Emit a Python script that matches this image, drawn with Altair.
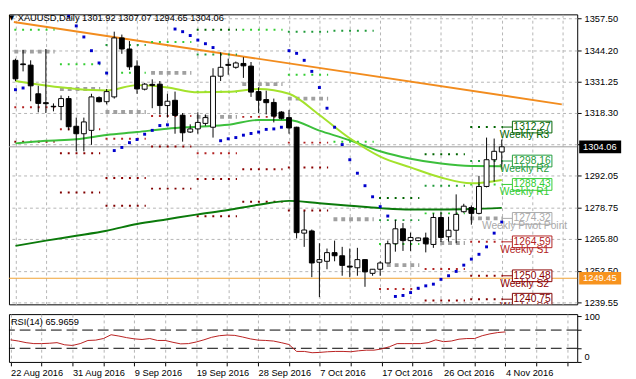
import altair as alt
import pandas as pd

# ---------------- data ----------------
opens = [1340.0,1338.5,1338.0,1326.1,1322.4,1320.9,1320.8,1324.1,1312.6,1309.5,
         1310.9,1324.5,1322.8,1324.8,1349.3,1344.7,1337.6,1328.0,1330.0,1330.1,
         1321.2,1323.4,1317.2,1310.2,1311.5,1313.8,1312.2,1333.4,1338.3,1337.1,
         1338.7,1337.6,1327.0,1323.7,1322.5,1318.5,1316.2,1312.2,1268.2,1269.1,
         1256.1,1256.5,1260.1,1258.8,1254.5,1253.8,1257.2,1251.5,1253.2,1255.8,
         1263.8,1270.0,1265.1,1265.1,1266.2,1263.5,1274.7,1266.7,1269.4,1277.1,
         1278.8,1276.4,1287.6,1298.7,1301.92]
highs = [1340.7,1344.3,1340.0,1329.4,1344.7,1322.1,1325.4,1325.2,1316.2,1316.2,
         1326.1,1325.0,1328.1,1351.9,1350.7,1348.0,1340.0,1330.6,1332.1,1331.4,
         1326.1,1327.0,1318.1,1313.4,1318.4,1317.5,1336.7,1343.3,1340.7,1339.5,
         1341.3,1339.3,1328.8,1327.4,1324.1,1318.9,1319.4,1312.4,1277.4,1269.7,
         1264.0,1261.8,1265.1,1262.5,1261.8,1262.1,1257.3,1253.3,1256.5,1265.1,
         1273.7,1272.4,1268.4,1266.4,1268.4,1276.4,1277.1,1275.0,1284.3,1280.4,
         1279.7,1292.0,1307.9,1307.5,1307.07]
lows = [1331.4,1335.4,1323.0,1318.4,1318.1,1318.8,1315.1,1310.9,1302.2,1302.2,
        1304.9,1322.5,1321.7,1324.1,1342.7,1336.0,1326.1,1327.5,1320.1,1317.5,
        1316.2,1309.5,1306.2,1309.8,1309.5,1312.8,1307.9,1331.4,1334.0,1336.5,
        1332.7,1324.8,1318.1,1317.5,1314.2,1315.4,1309.5,1266.0,1262.5,1249.9,
        1241.6,1253.2,1256.5,1250.5,1249.9,1250.5,1245.9,1250.5,1250.5,1255.8,
        1260.5,1260.8,1260.8,1264.8,1260.2,1262.1,1264.5,1264.7,1264.0,1276.7,
        1271.7,1276.0,1287.2,1289.6,1294.65]
closes = [1332.3,1338.2,1329.4,1322.1,1322.0,1320.7,1324.1,1312.4,1309.5,1314.4,
          1324.8,1322.8,1327.0,1349.3,1344.7,1337.3,1328.1,1330.1,1329.6,1321.2,
          1323.0,1317.1,1309.9,1311.5,1314.2,1316.2,1333.4,1337.1,1337.9,1338.9,
          1337.7,1326.8,1323.4,1322.4,1316.8,1315.9,1311.9,1268.4,1269.5,1255.8,
          1257.2,1260.1,1258.8,1254.8,1254.1,1257.2,1252.1,1253.2,1255.8,1263.8,
          1270.0,1265.1,1266.4,1266.2,1263.8,1274.7,1266.4,1269.4,1276.0,1279.4,
          1276.4,1287.6,1298.7,1302.2,1304.06]
sar = [1327.8,1328.5,None,None,None,None,None,1358.3,1354.3,1349.7,
       1344.0,1338.9,1334.7,1302.5,1303.8,1305.8,1307.1,1309.3,1310.9,1312.9,
       1313.2,1353.0,1351.9,1350.3,1348.4,1346.9,1345.3,1306.6,1307.4,1307.9,
       1308.9,1309.6,1310.2,1311.3,1311.5,1312.2,1344.0,1342.9,1340.0,1335.4,
       1328.7,1320.1,1312.2,1305.0,1298.7,1293.1,1287.9,1283.3,1279.2,1275.3,
       1241.9,1242.3,1243.5,1245.3,1246.3,1247.0,1249.0,1250.5,1252.3,1254.9,
       1257.4,1259.4,1262.5,1268.2,1272.8]
rsi = [48.6,45.9,42.4,40.3,40.3,41.0,42.4,37.6,36.2,40.3,
       47.2,47.9,51.4,59.7,56.9,53.4,50.7,49.3,51.4,47.2,
       47.2,43.1,39.7,40.3,43.8,48.6,54.1,57.6,59.0,58.3,
       54.8,50.7,47.9,47.2,45.9,42.4,38.3,23.1,23.1,20.3,
       21.0,22.4,23.1,23.1,22.4,24.5,25.9,25.9,28.6,33.4,
       40.3,40.3,40.3,40.3,42.4,48.6,44.5,45.9,50.0,51.4,
       51.4,57.6,61.7,64.5,65.97]

ma_bars = list(range(0, 65, 4))
ma_fast = [1331.4,1329.5,1328.1,1327.5,1329.7,1328.7,1326.7,1326.9,1328.1,1326.1,
           1317.3,1307.6,1300.0,1295.5,1291.3,1288.9,1290.3]
ma_mid = [1305.5,1306.6,1307.2,1309.0,1310.2,1311.6,1312.4,1313.2,1315.2,1315.2,
          1310.8,1306.8,1302.2,1299.1,1297.1,1296.1,1296.0]
ma_slow = [1262.9,1265.1,1267.1,1269.2,1272.0,1274.0,1276.0,1277.8,1280.0,1281.6,
           1280.6,1279.6,1278.6,1278.0,1278.0,1278.2,1278.7]

trend_bars = [-0.2125, 71.9]
trend_prices = [1355.9, 1321.7]

pivot_names = ["R3", "R2", "R1", "Pivot", "S1", "S2", "S3"]
pivot_weeks = [
    [None, None, 1352.7, 1343.6, 1320.5, 1306.2, None],
    [None, None, 1338.4, 1328.1, 1311.4, 1301.4, 1285.1],
    [None, 1346.4, 1334.8, 1318.5, 1307.4, 1291.1, 1279.6],
    [None, None, 1347.6, 1334.8, 1316.9, 1304.2, 1286.7],
    [1352.7, 1342.4, 1326.9, 1316.5, 1301.4, 1290.7, 1275.2],
    [None, None, 1352.7, 1330.1, 1316.5, 1294.7, 1281.2],
    [None, 1351.9, 1334.0, 1324.1, 1305.8, 1295.5, 1277.6],
    [None, 1352.3, 1306.2, 1274.0, None, None, None],
    [1282.8, 1273.6, 1263.7, 1254.9, 1245.0, None, None],
    [1301.0, 1287.9, 1276.4, 1264.1, 1253.3, 1240.2, None],
    [1312.27, 1298.16, 1288.43, 1274.32, 1264.59, 1250.48, 1240.75],
]
pivot_texts = ["Weekly R3", "Weekly R2", "Weekly R1", "Weekly Pivot Point",
               "Weekly S1", "Weekly S2", "Weekly S3"]
pivot_colors = ["#006400", "#1f9a3a", "#32cd32", "#a9a9a9", "#b22222", "#8b0000", "#800000"]

date_labels = ["22 Aug 2016", "31 Aug 2016", "9 Sep 2016", "19 Sep 2016", "28 Sep 2016",
               "7 Oct 2016", "17 Oct 2016", "26 Oct 2016", "4 Nov 2016"]
price_ticks = [1357.50, 1344.20, 1331.25, 1318.30, 1305.20, 1292.05, 1278.75,
               1265.80, 1252.50, 1239.55]
last_price = 1304.06
alert_price = 1249.45
title_text = "XAUUSD,Daily  1301.92 1307.07 1294.65 1304.06"
rsi_text = "RSI(14) 65.9659"
rsi_levels = [30, 70]

# ---------------- frames ----------------
N = len(closes)
bars = pd.DataFrame({"i": list(range(N)), "open": opens, "high": highs,
                     "low": lows, "close": closes})
sar_df = pd.DataFrame({"i": list(range(N)), "sar": sar}).dropna()
rsi_df = pd.DataFrame({"i": list(range(N)), "rsi": rsi})
ma_df = pd.DataFrame({"i": ma_bars, "fast": ma_fast, "mid": ma_mid, "slow": ma_slow})
trend_df = pd.DataFrame({"i": trend_bars, "p": trend_prices})

rows = []
for k, levels in enumerate(pivot_weeks):
    s = 6 * k - 0.15
    e = min(6 * k + 5, N - 1) + 0.15
    for name, v in zip(pivot_names, levels):
        if v is not None:
            rows.append({"x": s, "x2": e, "y": v, "level": name})
piv_df = pd.DataFrame(rows)
last_week = pd.DataFrame({"level": pivot_names, "value": pivot_weeks[-1],
                          "label": pivot_texts})
last_week["vtxt"] = last_week["value"].map(lambda v: f"{v:.2f}")
last_week["c1"] = N - 1 + 0.15
last_week["c2"] = 65.4
last_week["bx1"] = 65.4
last_week["bx2"] = 70.6
last_week["bx"] = 68.0
last_week["wx"] = 67.0

GRID = "#b4b4b4"
FONT = "Liberation Sans"
lvl_scale = alt.Scale(domain=pivot_names, range=pivot_colors)

x_scale = alt.Scale(domain=[-0.2125, 73.29], nice=False, zero=False)
y_scale = alt.Scale(domain=[1238.61, 1359.09], nice=False, zero=False)
grid_vals = list(range(0, 73, 4))

x_axis_main = alt.Axis(values=grid_vals, labels=False, ticks=False, domain=False,
                       grid=True, gridDash=[3, 3], gridColor=GRID, title=None)
y_axis_main = alt.Axis(orient="right", values=price_ticks, grid=True, gridDash=[3, 3],
                       gridColor=GRID, domain=False, tickSize=4, tickColor="black",
                       labelPadding=3, title=None,
                       labelExpr="datum.value == 1305.2 ? '' : format(datum.value, '.2f')")


def X(f):
    return alt.X(f, type="quantitative", scale=x_scale, axis=x_axis_main)


def Y(f):
    return alt.Y(f, type="quantitative", scale=y_scale, axis=y_axis_main)


base = alt.Chart(bars)

price_line = alt.Chart(pd.DataFrame({"p": [last_price]})).mark_rule(
    color="#9a9a9a", strokeWidth=1).encode(y=Y("p"))
alert_line = alt.Chart(pd.DataFrame({"p": [alert_price]})).mark_rule(
    color="#f0a030", strokeWidth=1).encode(y=Y("p"))

trend = alt.Chart(trend_df).mark_line(color="#f28c1e", strokeWidth=2).encode(
    x=X("i"), y=Y("p"))

piv_rs = alt.Chart(piv_df).transform_filter("datum.level != 'Pivot'").mark_rule(
    strokeWidth=2, strokeDash=[2, 6]).encode(
    x=X("x"), x2=alt.X2("x2"), y=Y("y"),
    color=alt.Color("level:N", scale=lvl_scale, legend=None))
piv_p = alt.Chart(piv_df).transform_filter("datum.level == 'Pivot'").mark_rule(
    strokeWidth=4, strokeDash=[4, 4], color="#a0a0a0").encode(
    x=X("x"), x2=alt.X2("x2"), y=Y("y"))

ma_layers = []
for col, colr in [("slow", "#0b7a0b"), ("mid", "#3cbf3c"), ("fast", "#a4e22c")]:
    ma_layers.append(alt.Chart(ma_df).mark_line(
        color=colr, strokeWidth=2, interpolate="monotone").encode(x=X("i"), y=Y(col)))

wicks = base.mark_rule(color="black", strokeWidth=1).encode(
    x=X("i"), y=Y("low"), y2=alt.Y2("high"))
bodies = base.mark_bar(size=5, stroke="black", strokeWidth=1).encode(
    x=X("i"), y=Y("open"), y2=alt.Y2("close"),
    fill=alt.condition("datum.close >= datum.open", alt.value("white"), alt.value("black")))

sar_pts = alt.Chart(sar_df).mark_square(size=9, color="#0000cc", opacity=1).encode(
    x=X("i"), y=Y("sar"))

lw = alt.Chart(last_week)
conn = lw.mark_rule(strokeWidth=1).encode(
    x=X("c1"), x2=alt.X2("c2"), y=Y("value"),
    color=alt.Color("level:N", scale=lvl_scale, legend=None))
boxes = lw.mark_rect(height=12, fill="white", strokeWidth=1, clip=True).encode(
    x=X("bx1"), x2=alt.X2("bx2"), y=Y("value"),
    stroke=alt.Stroke("level:N", scale=lvl_scale, legend=None))
box_txt = lw.mark_text(font=FONT, fontSize=10.5, clip=True).encode(
    x=X("bx"), y=Y("value"), text="vtxt:N",
    color=alt.Color("level:N", scale=lvl_scale, legend=None))
week_txt = lw.mark_text(font=FONT, fontSize=10.5, dy=8, clip=True).encode(
    x=X("wx"), y=Y("value"), text="label:N",
    color=alt.Color("level:N", scale=lvl_scale, legend=None))

tag_df = pd.DataFrame({"p": [last_price, alert_price],
                       "t": [f"{last_price:.2f}", f"{alert_price:.2f}"],
                       "bg": ["black", "#f7931e"]})
tags_bg = alt.Chart(tag_df).mark_rule(strokeWidth=13).encode(
    x=alt.value(584), x2=alt.value(627), y=Y("p"),
    color=alt.Color("bg:N", scale=None, legend=None))
tags_txt = alt.Chart(tag_df).mark_text(font=FONT, fontSize=9.5, color="white",
                                       align="left").encode(
    x=alt.value(588), y=Y("p"), text="t:N")

ttl = alt.Chart(pd.DataFrame({"t": [title_text]})).mark_text(
    font=FONT, fontSize=9.5, align="left", baseline="middle", color="black").encode(
    x=alt.value(9), y=alt.value(4), text="t:N")
tri = alt.Chart(pd.DataFrame({"t": ["\u25bc"]})).mark_text(
    font="DejaVu Sans", fontSize=7, align="left", baseline="middle", color="black").encode(
    x=alt.value(0), y=alt.value(4), text="t:N")

main = alt.layer(trend, alert_line, price_line, piv_p, piv_rs, *ma_layers, wicks, bodies,
                 sar_pts, conn, boxes, box_txt, week_txt, tags_bg, tags_txt, ttl, tri
                 ).properties(width=582, height=297)

# ---------------- RSI panel ----------------
date_arr = "[" + ",".join("'" + d + "'" for d in date_labels) + "]"
x_axis_rsi = alt.Axis(values=grid_vals, grid=True, gridDash=[3, 3], gridColor=GRID,
                      domain=False, tickSize=4, tickColor="black", labelAlign="left",
                      labelFlush=False, labelPadding=2, title=None,
                      labelExpr=f"datum.value % 8 == 0 && datum.value <= 64 ? {date_arr}[datum.value / 8] : ''")
rsi_scale = alt.Scale(domain=[0, 105], nice=False, zero=False)
y_axis_rsi = alt.Axis(orient="right", values=[0, 30, 70, 100], grid=False, domain=False,
                      tickSize=4, tickColor="black", labelFlush=True, labelPadding=3,
                      title=None)


def XR(f):
    return alt.X(f, type="quantitative", scale=x_scale, axis=x_axis_rsi)


def YR(f):
    return alt.Y(f, type="quantitative", scale=rsi_scale, axis=y_axis_rsi)


rsi_lv = alt.Chart(pd.DataFrame({"lv": rsi_levels})).mark_rule(
    color="black", strokeWidth=1, strokeDash=[11, 5]).encode(y=YR("lv"))
rsi_line = alt.Chart(rsi_df).mark_line(color="#b81d1d", strokeWidth=1).encode(
    x=XR("i"), y=YR("rsi"))
rsi_lbl = alt.Chart(pd.DataFrame({"t": [rsi_text]})).mark_text(
    font=FONT, fontSize=9.5, align="left", baseline="middle", color="black").encode(
    x=alt.value(2), y=alt.value(8), text="t:N")
rsi_panel = alt.layer(rsi_lv, rsi_line, rsi_lbl).properties(width=582, height=49)

chart = alt.vconcat(main, rsi_panel, spacing=3).resolve_scale(
    x="independent", y="independent", color="independent", stroke="independent"
).properties(padding=0).configure(background="white").configure_view(
    stroke="black", strokeWidth=1).configure_axis(
    labelFont=FONT, labelFontSize=9.5, labelColor="black")

chart.save("out.html", embed_options={"renderer": "svg", "actions": False})
